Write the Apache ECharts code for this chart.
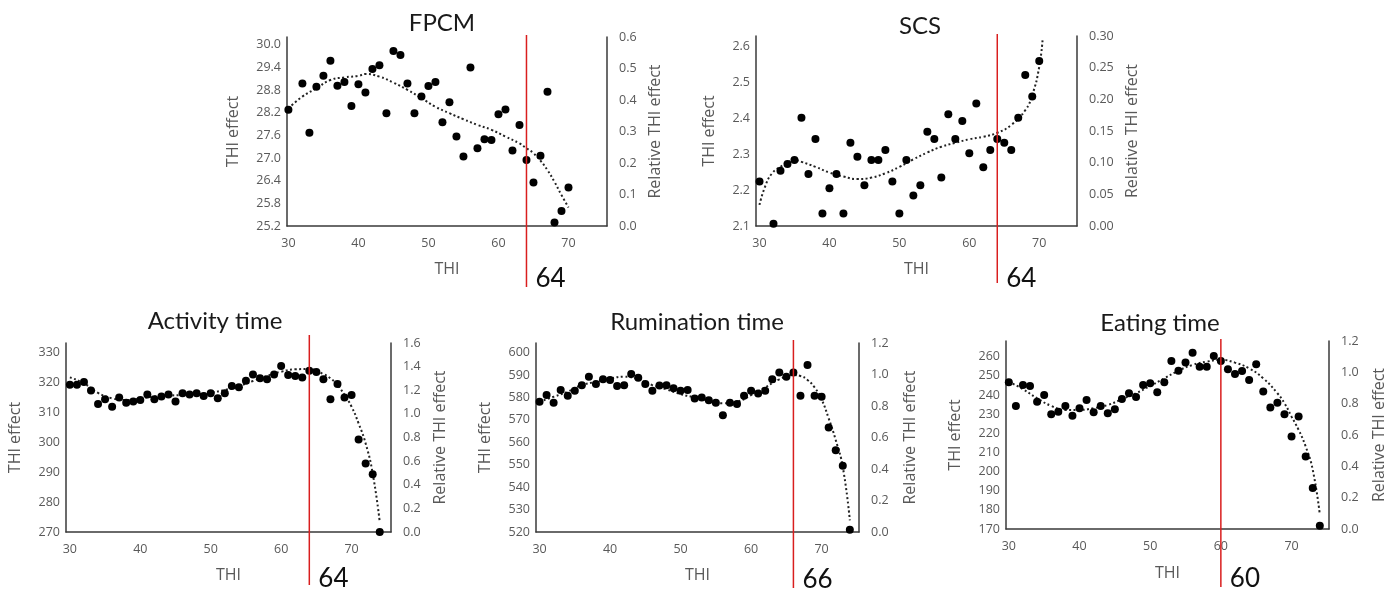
<!DOCTYPE html>
<html>
<head>
<meta charset="utf-8">
<script src="https://cdn.jsdelivr.net/npm/echarts@6/dist/echarts.min.js"></script>
<style>html,body{margin:0;padding:0;background:#fff}#c{width:1393px;height:590px}</style>
</head>
<body>
<div id="c"></div>
<script>
// ---------- DATA ----------
const titles = ["FPCM", "SCS", "Activity time", "Rumination time", "Eating time"];
const thresholds = [64, 64, 64, 66, 60];
const xTickLabels = [30, 40, 50, 60, 70];

const fpcmX = [30,32,33,34,35,36,37,38,39,40,41,42,43,44,45,46,47,48,49,50,51,52,53,54,55,56,57,58,59,60,61,62,63,64,65,66,67,68,69,70];
const fpcmY = [28.28,28.98,27.67,28.89,29.18,29.58,28.92,29.02,28.38,28.96,28.74,29.36,29.46,28.19,29.84,29.73,28.98,28.19,28.63,28.91,29.02,27.95,28.48,27.57,27.04,29.40,27.26,27.50,27.48,28.16,28.29,27.20,27.88,26.95,26.35,27.06,28.76,25.29,25.60,26.22];
const fpcmTrendX = [30,32,34,36,38,40,41,43,45,47,49,51,53,55,57,59,61,63,64,65,66,67,68,69,70];
const fpcmTrendY = [28.32,28.63,28.85,29.07,29.14,29.18,29.23,29.16,29.00,28.81,28.59,28.36,28.19,28.03,27.88,27.75,27.57,27.39,27.26,27.13,26.93,26.68,26.37,26.02,25.69];

const scsX = [30,32,33,34,35,36,37,38,39,40,41,42,43,44,45,46,47,48,49,50,51,52,53,54,55,56,57,58,59,60,61,62,63,64,65,66,67,68,69,70];
const scsY = [2.224,2.106,2.254,2.273,2.284,2.402,2.245,2.343,2.135,2.205,2.245,2.135,2.332,2.293,2.214,2.284,2.284,2.312,2.224,2.135,2.284,2.185,2.214,2.363,2.343,2.235,2.412,2.343,2.393,2.303,2.442,2.264,2.312,2.343,2.332,2.312,2.402,2.521,2.461,2.560];
const scsTrendX = [30,30.8,31.8,33,34,35,36,38,40,42,44,46,48,50,52,54,56,58,60,62,64,66,68,69,70,70.5];
const scsTrendY = [2.159,2.210,2.247,2.265,2.277,2.284,2.279,2.265,2.249,2.238,2.231,2.235,2.247,2.265,2.286,2.305,2.321,2.332,2.342,2.349,2.360,2.382,2.423,2.465,2.544,2.625];

const actX = [30,31,32,33,34,35,36,37,38,39,40,41,42,43,44,45,46,47,48,49,50,51,52,53,54,55,56,57,58,59,60,61,62,63,64,65,66,67,68,69,70,71,72,73,74];
const actY = [319.2,319.2,320.2,317.3,312.8,314.4,311.9,315.0,313.2,313.6,314.1,316.0,314.4,315.3,316.0,313.6,316.4,316.0,316.4,315.5,316.4,314.7,316.4,318.8,318.4,320.6,322.7,321.4,321.1,322.7,325.5,322.5,322.2,321.7,323.9,323.5,321.1,314.4,319.5,315.0,315.8,300.9,292.9,289.3,270.0];
const actTrendX = [30,32,34,36,38,40,42,44,46,48,50,52,54,56,58,60,62,64,66,67,68,69,70,71,72,73,74];
const actTrendY = [321.7,319.7,316.5,314.7,314.1,314.7,315.3,315.6,315.8,316.0,316.6,317.5,318.8,320.5,322.2,323.6,324.4,324.5,322.8,321.4,319.2,315.8,311.9,306.3,299.6,289.6,273.4];

const rumX = [30,31,32,33,34,35,36,37,38,39,40,41,42,43,44,45,46,47,48,49,50,51,52,53,54,55,56,57,58,59,60,61,62,63,64,65,66,67,68,69,70,71,72,73,74];
const rumY = [578.1,581.1,577.7,583.3,580.8,583.0,585.5,589.3,586.0,588.1,587.8,585.1,585.5,590.5,588.8,586.0,583.0,585.3,585.5,584.1,583.0,583.3,579.6,580.0,578.8,577.7,572.1,577.7,577.1,580.8,583.0,581.8,583.0,588.1,591.1,589.3,591.1,580.8,594.5,580.8,580.3,566.6,556.5,549.5,521.0];
const rumTrendX = [30,32,34,36,38,40,42,43,44,46,48,50,52,54,56,58,60,62,64,66,67,68,69,70,71,72,73,74];
const rumTrendY = [578.1,580.3,582.6,585.5,587.0,588.4,589.3,589.0,588.1,585.5,583.6,581.5,580.0,578.5,577.4,578.1,581.1,584.5,588.1,590.0,589.6,587.8,584.5,579.1,570.7,561.0,549.0,525.2];

const eatX = [30,31,32,33,34,35,36,37,38,39,40,41,42,43,44,45,46,47,48,49,50,51,52,53,54,55,56,57,58,59,60,61,62,63,64,65,66,67,68,69,70,71,72,73,74];
const eatY = [246.6,234.3,245.2,244.7,236.5,240.0,229.9,231.3,234.3,229.2,233.1,237.4,231.0,234.3,230.5,232.6,237.9,240.9,238.9,245.2,246.1,241.4,246.6,257.7,252.7,257.0,262.1,254.8,254.8,260.3,257.7,253.4,251.0,252.5,247.8,256.0,241.8,233.4,236.0,229.9,218.3,228.7,207.9,191.4,171.7];
const eatTrendX = [30,32,34,36,38,40,42,44,46,48,50,52,54,56,58,60,62,64,66,68,69,70,71,72,73,74];
const eatTrendY = [247.0,243.0,238.3,234.3,232.2,232.2,233.1,234.8,237.8,240.9,244.7,248.7,252.7,255.7,257.4,258.3,256.9,253.9,248.7,240.9,235.7,228.7,221.8,213.1,200.9,177.5];

// axis scales (value ranges shown on each panel)
const leftMin = [25.2, 2.1, 270, 520, 170];
const leftMax = [30.21, 2.63, 333.2, 604.3, 268.2];
const leftStep = [0.6, 0.1, 10, 10, 10];
const leftDec = [1, 1, 0, 0, 0];
const rightMax = [0.6, 0.30, 1.6, 1.2, 1.2];
const rightStep = [0.1, 0.05, 0.2, 0.2, 0.2];
const rightDec = [1, 2, 1, 1, 1];
const xMin = [29.8, 29.5, 29.45, 29.5, 29.6];
const xMax = [75.5, 75.4, 75.6, 75.3, 75.3];

const pointsX = [fpcmX, scsX, actX, rumX, eatX];
const pointsY = [fpcmY, scsY, actY, rumY, eatY];
const trendX = [fpcmTrendX, scsTrendX, actTrendX, rumTrendX, eatTrendX];
const trendY = [fpcmTrendY, scsTrendY, actTrendY, rumTrendY, eatTrendY];

// ---------- LAYOUT / STYLE ----------
const TFONT = 'Lato';
const AFONT = 'Open Sans';
const GREY = '#595959';
const AXIS = '#3a3a3a';
const grids = [
  {left: 287, top: 37, width: 320, height: 189},
  {left: 756, top: 36, width: 321, height: 190},
  {left: 66, top: 343, width: 325, height: 189},
  {left: 536, top: 343, width: 323, height: 189},
  {left: 1006, top: 341, width: 323, height: 188}
];
const leftNameGap = [46, 39, 43, 43, 43];
const rightNameGap = [40, 47, 41, 43, 42];
const xNameGap = [35, 35, 35, 35, 36];
const lineTopExt = [2, 2, 8, 3, 2];
const lineBotExt = [61, 57, 53, 56, 58];
const labelOff = [53, 53, 47, 48, 50];
const titleCenter = [[442, 22], [920, 25], [215, 320], [697, 321], [1160, 322]];

const zip = (a, b) => a.map((v, i) => [v, b[i]]);

const option = {
  backgroundColor: '#fff',
  animation: false,
  textStyle: {fontFamily: AFONT},
  title: titles.map((t, i) => ({
    text: t, left: titleCenter[i][0], top: titleCenter[i][1] - 11, textAlign: 'center', padding: 0,
    textStyle: {fontFamily: TFONT, fontSize: 24, fontWeight: 'normal', color: '#1a1a1a'}
  })),
  grid: grids,
  xAxis: grids.map((g, i) => ({
    type: 'value', gridIndex: i, min: xMin[i], max: xMax[i],
    name: 'THI', nameLocation: 'middle', nameGap: xNameGap[i],
    nameTextStyle: {color: GREY, fontSize: 16, fontFamily: AFONT},
    axisLine: {show: true, lineStyle: {color: AXIS, width: 1.5}},
    axisTick: {show: false}, splitLine: {show: false},
    axisLabel: {customValues: xTickLabels, color: GREY, fontSize: 12.5, margin: 11, fontFamily: AFONT}
  })),
  yAxis: [],
  series: []
};

grids.forEach((g, i) => {
  option.yAxis.push({
    type: 'value', gridIndex: i, position: 'left', min: leftMin[i], max: leftMax[i], interval: leftStep[i],
    name: 'THI effect', nameLocation: 'middle', nameRotate: 90, nameGap: leftNameGap[i],
    nameTextStyle: {color: GREY, fontSize: 16, fontFamily: AFONT},
    axisLine: {show: true, lineStyle: {color: AXIS, width: 1.5}},
    axisTick: {show: false}, splitLine: {show: false},
    axisLabel: {color: GREY, fontSize: 12.5, margin: 6, showMaxLabel: false, fontFamily: AFONT,
      formatter: v => Number(v).toFixed(leftDec[i])}
  });
  option.yAxis.push({
    type: 'value', gridIndex: i, position: 'right', min: 0, max: rightMax[i], interval: rightStep[i],
    name: 'Relative THI effect', nameLocation: 'middle', nameRotate: 90, nameGap: rightNameGap[i],
    nameTextStyle: {color: GREY, fontSize: 16, fontFamily: AFONT},
    axisLine: {show: true, lineStyle: {color: AXIS, width: 1.5}},
    axisTick: {show: false}, splitLine: {show: false},
    axisLabel: {color: GREY, fontSize: 12.5, margin: 12, fontFamily: AFONT,
      formatter: v => Number(v).toFixed(rightDec[i])}
  });
});

grids.forEach((g, i) => {
  option.series.push({
    type: 'line', xAxisIndex: i, yAxisIndex: 2 * i, data: zip(trendX[i], trendY[i]),
    smooth: true, showSymbol: false, clip: false, z: 2,
    lineStyle: {color: '#222', width: 2, type: [2, 2.5]}
  });
  option.series.push({
    type: 'scatter', xAxisIndex: i, yAxisIndex: 2 * i, data: zip(pointsX[i], pointsY[i]),
    symbolSize: 8, itemStyle: {color: '#000', opacity: 1}, z: 3, clip: false
  });
  option.series.push({
    type: 'custom', xAxisIndex: i, yAxisIndex: 2 * i, data: [[thresholds[i], leftMin[i]]], clip: false, z: 4,
    renderItem: (params, api) => {
      const p = api.coord([api.value(0), api.value(1)]);
      const cs = params.coordSys;
      const bottom = cs.y + cs.height;
      return {
        type: 'group', children: [
          {type: 'line', shape: {x1: p[0], y1: cs.y - lineTopExt[i], x2: p[0], y2: bottom + lineBotExt[i]},
           style: {stroke: '#d91e1e', lineWidth: 1.5}},
          {type: 'text', style: {text: String(api.value(0)), x: p[0] + 9, y: bottom + labelOff[i],
           verticalAlign: 'middle', align: 'left', fill: '#111', fontSize: 26, fontFamily: TFONT}}
        ]
      };
    }
  });
});

const chart = echarts.init(document.getElementById('c'), null, {renderer: 'canvas'});
chart.setOption(option);
</script>
</body>
</html>
